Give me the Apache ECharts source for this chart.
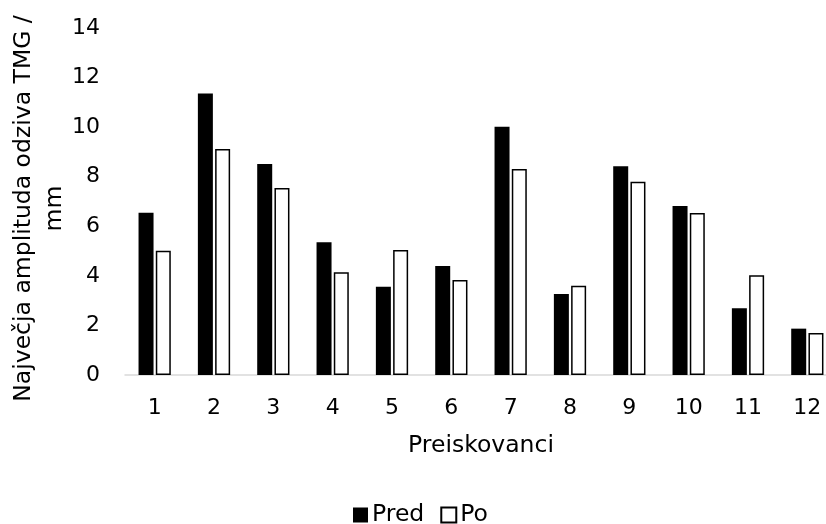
<!DOCTYPE html>
<html><head><meta charset="utf-8">
<script src="https://cdn.jsdelivr.net/npm/echarts@6/dist/echarts.min.js"></script>
<style>html,body{margin:0;padding:0;background:#fff;overflow:hidden}#c{width:837px;height:524px}</style>
</head><body><div id="c"></div>
<script>
const categories = ['1','2','3','4','5','6','7','8','9','10','11','12'];
const pred = [6.55, 11.36, 8.51, 5.36, 3.56, 4.40, 10.02, 3.27, 8.42, 6.82, 2.69, 1.87];
const po   = [5.01, 9.12, 7.54, 4.15, 5.04, 3.83, 8.31, 3.60, 7.80, 6.54, 4.02, 1.69];
const seriesNames = ['Pred', 'Po'];
const yTicks = {min: 0, max: 14, interval: 2};

const font = 'DejaVu Sans';
const fsNum = 22;
const fsTxt = 23.5;
const chart = echarts.init(document.getElementById('c'));
chart.setOption({
  animation: false,
  backgroundColor: '#fff',
  textStyle: {fontFamily: font, color: '#000'},
  grid: {left: 125, right: 0, top: 28, bottom: 149, containLabel: false, outerBoundsMode: 'none'},
  legend: {
    left: 353, top: 503, padding: 0, itemWidth: 15, itemHeight: 15, itemGap: 16,
    icon: 'rect',
    textStyle: {fontFamily: font, fontSize: fsTxt, color: '#000', padding: [0,0,0,-1]},
    data: seriesNames
  },
  xAxis: {
    type: 'category', data: categories,
    name: 'Preiskovanci', nameLocation: 'middle', nameGap: 59, nameMoveOverlap: false,
    nameTextStyle: {fontFamily: font, fontSize: fsTxt, color: '#000'},
    axisLine: {lineStyle: {color: '#d9d9d9', width: 1.5}},
    axisTick: {show: false},
    axisLabel: {fontFamily: font, fontSize: fsNum, color: '#000', margin: 22}
  },
  yAxis: {
    type: 'value', min: yTicks.min, max: yTicks.max, interval: yTicks.interval,
    name: 'Največja amplituda odziva TMG /\nmm', nameLocation: 'middle', nameGap: 55, nameMoveOverlap: false,
    nameTextStyle: {fontFamily: font, fontSize: fsTxt, color: '#000', lineHeight: 31, align: 'center', padding: [0, 14, 0, 0]},
    axisLine: {show: false}, axisTick: {show: false}, splitLine: {show: false},
    axisLabel: {fontFamily: font, fontSize: fsNum, color: '#000', margin: 25}
  },
  series: [
    {name: seriesNames[0], type: 'bar', data: pred, barWidth: 15, barGap: '15%',
     itemStyle: {color: '#000'}},
    {name: seriesNames[1], type: 'bar', data: po, barWidth: 15,
     itemStyle: {color: '#fff', borderColor: '#000', borderWidth: 1.5}}
  ]
});
</script></body></html>
